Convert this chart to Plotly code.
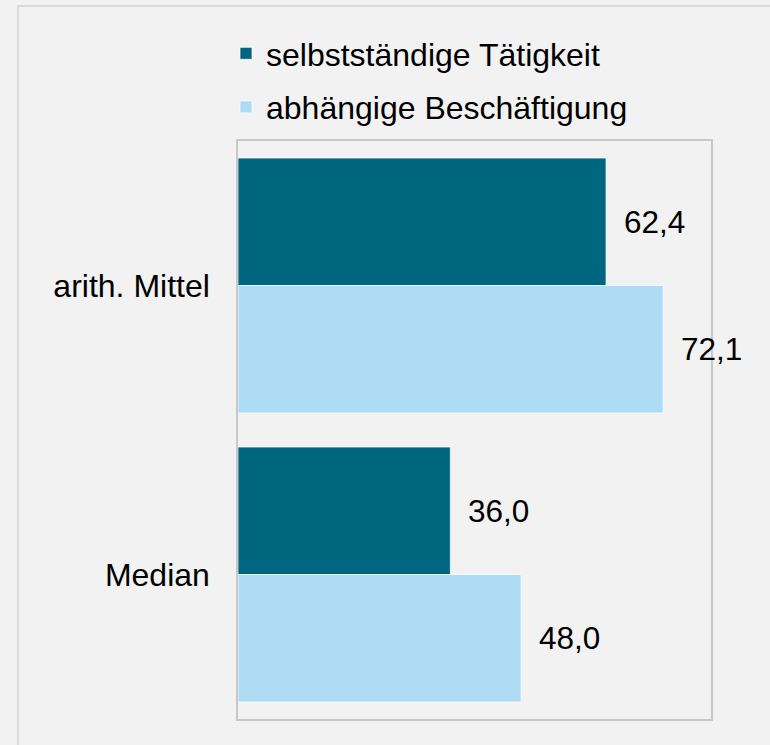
import plotly.graph_objects as go

# Data
categories = ["arith. Mittel", "Median"]
series_names = ["selbstständige Tätigkeit", "abhängige Beschäftigung"]
selbststaendig = [62.4, 36.0]
abhaengig = [72.1, 48.0]
colors = ["#006680", "#afdcf5"]

FONT = "Liberation Sans, Arial, sans-serif"
BG = "#f2f2f2"

W, H = 770, 745
ML, MR, MT, MB = 238, 59, 141, 26
PW, PH = W - ML - MR, H - MT - MB


def fmt(v):
    return f"{v:.1f}".replace(".", ",")


fig = go.Figure()
for name, vals, col in zip(series_names, [selbststaendig, abhaengig], colors):
    fig.add_trace(go.Bar(
        name=name,
        legendgroup=name,
        y=categories,
        x=vals,
        orientation="h",
        marker=dict(color=col, line=dict(color="rgba(255,255,255,0.7)", width=1)),
        hoverinfo="skip",
    ))

# value labels to the right of each bar
annotations = []
n = len(series_names)
for i, vals in enumerate([selbststaendig, abhaengig]):
    for cat_idx, v in enumerate(vals):
        annotations.append(dict(
            x=v, y=cat_idx + (i - (n - 1) / 2) * 0.441, xref="x", yref="y",
            text=fmt(v), showarrow=False, xanchor="left", yanchor="middle",
            xshift=16, font=dict(family=FONT, size=31.5, color="#000000"),
        ))

# outer frame of the chart (open to the right and bottom edges)
shapes = [dict(type="rect", xref="paper", yref="paper",
               x0=(18 - ML) / PW, x1=(W + 5 - ML) / PW,
               y0=-(MB + 5) / PH, y1=(H - MB - 6) / PH,
               line=dict(color="#dadada", width=2), fillcolor="rgba(0,0,0,0)", layer="below")]

fig.update_layout(
    width=W, height=H,
    paper_bgcolor=BG, plot_bgcolor=BG,
    margin=dict(l=ML, r=MR, t=MT, b=MB, autoexpand=False),
    barmode="group", bargap=0.118, bargroupgap=0.0,
    font=dict(family=FONT, size=32, color="#000000"),
    showlegend=True,
    legend=dict(
        xref="container", yref="container",
        x=226 / W, y=1 - 26 / H, xanchor="left", yanchor="top",
        orientation="v", traceorder="grouped", tracegroupgap=9,
        bgcolor="rgba(0,0,0,0)", font=dict(family=FONT, size=32, color="#000000"),
    ),
    xaxis=dict(range=[0, 80.2], showgrid=False, zeroline=False, showticklabels=False,
               ticks="", showline=True, mirror=True, linecolor="#c8c8c8", linewidth=1.5,
               automargin=False, fixedrange=True),
    yaxis=dict(type="category", autorange="reversed", showgrid=False, zeroline=False,
               ticks="", showline=True, mirror=True, linecolor="#c8c8c8", linewidth=1.5,
               ticklabelstandoff=20, tickfont=dict(family=FONT, size=32, color="#000000"),
               automargin=False, fixedrange=True),
    annotations=annotations,
    shapes=shapes,
)

fig.write_html("out.html")
